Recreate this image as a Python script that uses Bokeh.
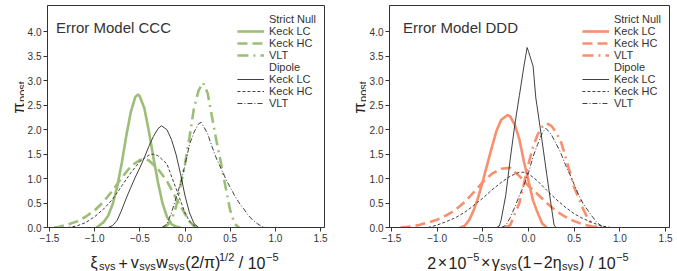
import math
from bokeh.plotting import figure
from bokeh.layouts import row, column
from bokeh.models import Legend, LegendItem, Label, FixedTicker, Range1d
from bokeh.embed import file_html
from bokeh.resources import INLINE

FONT = "Liberation Sans"
GREEN = "#9dbe78"
SALMON = "#f88f6e"
DARK = "#2a2a2a"

# ---------------- data ----------------
xticks = [-1.5, -1.0, -0.5, 0.0, 0.5, 1.0, 1.5]
xtick_labels = ["\u22121.5", "\u22121.0", "\u22120.5", "0.0", "0.5", "1.0", "1.5"]
yticks = [0.0, 0.5, 1.0, 1.5, 2.0, 2.5, 3.0, 3.5, 4.0]
ytick_labels = ["0.0", "0.5", "1.0", "1.5", "2.0", "2.5", "3.0", "3.5", "4.0"]
legend_labels = ["Strict Null", "Keck LC", "Keck HC", "VLT", "Dipole", "Keck LC", "Keck HC", "VLT"]
titles = ["Error Model CCC", "Error Model DDD"]

# Error model CCC
ccc_sn_lc_x = [-0.98, -0.95, -0.9, -0.85, -0.8, -0.75, -0.7, -0.65, -0.6, -0.55, -0.52, -0.5, -0.45, -0.4, -0.35, -0.3, -0.25, -0.2, -0.15, -0.1, -0.05]
ccc_sn_lc_y = [0, 0.04, 0.11, 0.24, 0.48, 0.84, 1.32, 1.87, 2.36, 2.67, 2.72, 2.68, 2.44, 1.97, 1.43, 0.93, 0.5, 0.22, 0.07, 0.02, 0]
ccc_sn_hc_x = [-1.45, -1.4, -1.3, -1.2, -1.1, -1.0, -0.9, -0.8, -0.7, -0.6, -0.5, -0.45, -0.4, -0.3, -0.2, -0.1, 0.0, 0.05, 0.1, 0.15]
ccc_sn_hc_y = [0, 0.01, 0.06, 0.12, 0.22, 0.35, 0.53, 0.76, 1.02, 1.25, 1.38, 1.4, 1.37, 1.2, 0.95, 0.6, 0.28, 0.12, 0.03, 0]
ccc_sn_vlt_x = [-0.25, -0.2, -0.15, -0.1, -0.05, 0.0, 0.05, 0.1, 0.15, 0.2, 0.25, 0.3, 0.35, 0.4, 0.45, 0.5, 0.55, 0.6]
ccc_sn_vlt_y = [0, 0.04, 0.15, 0.42, 0.85, 1.3, 1.85, 2.45, 2.8, 2.96, 2.75, 2.25, 1.75, 1.3, 0.82, 0.35, 0.07, 0]
ccc_dp_lc_x = [-0.85, -0.8, -0.75, -0.7, -0.65, -0.6, -0.55, -0.5, -0.45, -0.4, -0.35, -0.3, -0.26, -0.2, -0.15, -0.1, -0.05, 0.0, 0.05, 0.1, 0.15]
ccc_dp_lc_y = [0, 0.04, 0.15, 0.36, 0.6, 0.82, 1.03, 1.22, 1.43, 1.66, 1.86, 2.02, 2.08, 2.0, 1.8, 1.5, 1.1, 0.65, 0.3, 0.08, 0]
ccc_dp_hc_x = [-1.3, -1.2, -1.1, -1.0, -0.9, -0.8, -0.7, -0.6, -0.5, -0.4, -0.35, -0.3, -0.2, -0.1, 0.0, 0.05, 0.1, 0.15]
ccc_dp_hc_y = [0, 0.03, 0.1, 0.22, 0.38, 0.58, 0.85, 1.12, 1.35, 1.48, 1.5, 1.47, 1.3, 0.8, 0.3, 0.13, 0.04, 0]
ccc_dp_vlt_x = [-0.25, -0.2, -0.15, -0.1, -0.05, 0.0, 0.05, 0.1, 0.15, 0.18, 0.25, 0.3, 0.35, 0.4, 0.45, 0.5, 0.55, 0.6, 0.65, 0.7, 0.75, 0.8, 0.85, 0.9]
ccc_dp_vlt_y = [0, 0.07, 0.3, 0.6, 0.9, 1.28, 1.7, 1.95, 2.12, 2.15, 1.92, 1.65, 1.4, 1.2, 1.0, 0.82, 0.65, 0.5, 0.38, 0.25, 0.15, 0.08, 0.02, 0]

# Error model DDD
ddd_sn_lc_x = [-0.75, -0.7, -0.65, -0.6, -0.55, -0.5, -0.45, -0.4, -0.35, -0.3, -0.23, -0.2, -0.15, -0.1, -0.05, 0.0, 0.05, 0.1, 0.15, 0.2]
ddd_sn_lc_y = [0, 0.03, 0.15, 0.35, 0.62, 0.95, 1.3, 1.65, 1.98, 2.2, 2.3, 2.27, 2.1, 1.8, 1.35, 0.95, 0.55, 0.3, 0.08, 0]
ddd_sn_hc_x = [-1.4, -1.3, -1.2, -1.1, -1.0, -0.9, -0.8, -0.7, -0.6, -0.5, -0.4, -0.3, -0.2, -0.1, 0.0, 0.1, 0.2, 0.3, 0.4, 0.5, 0.6, 0.7, 0.8]
ddd_sn_hc_y = [0, 0.02, 0.05, 0.1, 0.16, 0.25, 0.36, 0.52, 0.72, 0.93, 1.1, 1.2, 1.22, 1.05, 0.85, 0.68, 0.5, 0.34, 0.22, 0.13, 0.06, 0.02, 0]
ddd_sn_vlt_x = [-0.25, -0.2, -0.15, -0.1, -0.05, 0.0, 0.05, 0.1, 0.15, 0.2, 0.25, 0.3, 0.35, 0.4, 0.45, 0.5, 0.55, 0.6, 0.65, 0.7, 0.75]
ddd_sn_vlt_y = [0, 0.05, 0.28, 0.5, 0.9, 1.3, 1.65, 1.9, 2.06, 2.13, 2.08, 1.95, 1.78, 1.48, 1.15, 0.82, 0.6, 0.37, 0.18, 0.06, 0]
ddd_dp_lc_x = [-0.35, -0.32, -0.3, -0.25, -0.2, -0.15, -0.1, -0.05, -0.015, 0.0, 0.05, 0.08, 0.1, 0.15, 0.2, 0.25, 0.28, 0.3]
ddd_dp_lc_y = [0, 0.03, 0.15, 0.65, 1.4, 2.1, 2.7, 3.3, 3.68, 3.6, 3.3, 2.65, 2.4, 1.75, 1.08, 0.42, 0.05, 0]
ddd_dp_hc_x = [-1.1, -1.0, -0.9, -0.8, -0.7, -0.6, -0.5, -0.4, -0.3, -0.2, -0.1, -0.05, 0.0, 0.1, 0.2, 0.3, 0.4, 0.5, 0.6, 0.7, 0.8, 0.9]
ddd_dp_hc_y = [0, 0.05, 0.12, 0.2, 0.31, 0.45, 0.6, 0.77, 0.92, 1.05, 1.13, 1.13, 1.1, 0.95, 0.76, 0.58, 0.42, 0.28, 0.18, 0.1, 0.03, 0]
ddd_dp_vlt_x = [-0.3, -0.25, -0.2, -0.15, -0.1, -0.05, 0.0, 0.05, 0.1, 0.15, 0.19, 0.25, 0.3, 0.35, 0.4, 0.45, 0.5, 0.55, 0.6, 0.65, 0.7, 0.75, 0.8, 0.85]
ddd_dp_vlt_y = [0, 0.04, 0.2, 0.42, 0.65, 0.86, 1.12, 1.45, 1.7, 1.93, 2.03, 1.9, 1.72, 1.54, 1.3, 1.1, 0.88, 0.66, 0.48, 0.35, 0.22, 0.1, 0.03, 0]

# ---------------- layout ----------------
BORDER_TOP = 5
FRAME_H = 222
BORDER_BOTTOM = 17
P_H = BORDER_TOP + FRAME_H + BORDER_BOTTOM   # 244
XL_H = 27                                    # x-label strip below each plot
BORDER_LEFT = 20

MAIN = 16.0
SCRIPT = 11.0
EM = {"ξ": 0.50, "s": 0.5, "y": 0.5, "+": 0.584, "v": 0.5, "w": 0.722, "(": 0.333, ")": 0.333,
      "2": 0.556, "/": 0.278, "π": 0.57, "1": 0.556, "0": 0.556, "−": 0.584, "5": 0.556,
      "×": 0.584, "γ": 0.5, "η": 0.556, "p": 0.556, "o": 0.556, "t": 0.278}


def text_w(t, size):
    return sum(EM.get(c, 0.55) for c in t) * size


def piece_geom(kind, sub_drop=3.5):
    if kind == "main":
        return MAIN, 0.0
    if kind == "sub":
        return SCRIPT, -sub_drop
    return SCRIPT, 6.0


def strip(width, height):
    s = figure(width=width, height=height, output_backend="svg", toolbar_location=None, title=None,
               x_axis_type=None, y_axis_type=None, x_range=Range1d(0, 1), y_range=Range1d(0, 1),
               min_border=0, min_border_left=0, min_border_right=0, min_border_top=0, min_border_bottom=0)
    s.outline_line_color = None
    s.background_fill_color = "white"
    s.border_fill_color = "white"
    return s


def add_xlabel(s, pieces, x_center, y_base):
    total = 0.0
    for t, kind, gap in pieces:
        size, _ = piece_geom(kind)
        total += gap + text_w(t, size)
    x = x_center - total / 2
    for t, kind, gap in pieces:
        size, off = piece_geom(kind)
        x += gap
        s.add_layout(Label(x=x, y=y_base + off, x_units="screen", y_units="screen", text=t,
                           text_font=FONT, text_font_size=f"{size}px", text_color="#222222",
                           text_align="left", text_baseline="alphabetic"))
        x += text_w(t, size)


def add_ylabel(s, pieces, x_base, y_start):
    # rotated pieces, each anchored at its upper end (right-aligned along the text)
    y = y_start
    for t, kind, gap in pieces:
        size, off = piece_geom(kind, sub_drop=3.0)
        y += gap + text_w(t, size)
        s.add_layout(Label(x=x_base - off, y=y, x_units="screen", y_units="screen", text=t,
                           angle=math.pi / 2, angle_units="rad",
                           text_font=FONT, text_font_size=f"{size}px", text_color="#222222",
                           text_align="right", text_baseline="alphabetic"))


def make_panel(frame_w, border_right, title, title_dx, color, series):
    ppu = (frame_w - 6) / 3.0
    p = figure(width=BORDER_LEFT + frame_w + border_right, height=P_H, output_backend="svg",
               toolbar_location=None, title=None,
               x_range=Range1d(-1.5 - 2 / ppu, 1.5 + 4 / ppu), y_range=Range1d(0, 4.54),
               min_border_left=BORDER_LEFT, min_border_right=border_right,
               min_border_top=BORDER_TOP, min_border_bottom=BORDER_BOTTOM)
    p.background_fill_color = "white"
    p.border_fill_color = "white"
    p.outline_line_color = "#333333"
    p.outline_line_width = 1
    p.xgrid.visible = False
    p.ygrid.visible = False
    for ax, ticks, labels in ((p.xaxis[0], xticks, xtick_labels), (p.yaxis[0], yticks, ytick_labels)):
        ax.ticker = FixedTicker(ticks=ticks)
        ax.major_label_overrides = {t: l for t, l in zip(ticks, labels)}
        ax.minor_tick_line_color = None
        ax.major_tick_in = 0
        ax.major_tick_out = 4
        ax.major_tick_line_color = "#333333"
        ax.axis_line_color = "#333333"
        ax.major_label_text_font = FONT
        ax.major_label_text_font_size = "10px"
        ax.major_label_text_color = "#333333"
        ax.major_label_standoff = 2

    sn, dp = series
    styles_sn = [("solid", 2.6), ("10 5", 2.6), ("11 5 2 5", 2.6)]
    styles_dp = [("solid", 0.9), ("3 2", 0.9), ("5 2 1 2", 0.9)]
    rs_sn, rs_dp = [], []
    for (xs, ys), (dash, lw) in zip(sn, styles_sn):
        rs_sn.append(p.line(xs, ys, line_color=color, line_width=lw, line_dash=dash))
    for (xs, ys), (dash, lw) in zip(dp, styles_dp):
        rs_dp.append(p.line(xs, ys, line_color=DARK, line_width=lw, line_dash=dash))
    dummy = p.line([], [], line_alpha=0)

    items = [LegendItem(label=legend_labels[0], renderers=[dummy])]
    items += [LegendItem(label=legend_labels[1 + i], renderers=[r]) for i, r in enumerate(rs_sn)]
    items.append(LegendItem(label=legend_labels[4], renderers=[dummy]))
    items += [LegendItem(label=legend_labels[5 + i], renderers=[r]) for i, r in enumerate(rs_dp)]
    legend = Legend(items=items, location="top_right", margin=1, padding=7, spacing=0,
                    glyph_width=27, glyph_height=12, label_height=12, label_standoff=5,
                    label_text_font=FONT, label_text_font_size="11px", label_text_color="#333333",
                    border_line_alpha=0, background_fill_alpha=0)
    p.add_layout(legend)

    p.add_layout(Label(x=title_dx, y=FRAME_H - 21.7, x_units="screen", y_units="screen", text=title,
                       text_font=FONT, text_font_size="15px", text_color="#333333",
                       text_baseline="alphabetic"))
    return p


xlabel_ccc = [("ξ", "main", 0), ("sys", "sub", 0.5), ("+", "main", 3), ("v", "main", 3),
              ("sys", "sub", 0.5), ("w", "main", 0.5), ("sys", "sub", 0.5), ("(2/π)", "main", 0.5),
              ("1/2", "sup", 0.5), ("/", "main", 4.5), ("10", "main", 4.5), ("−5", "sup", 0.5)]
xlabel_ddd = [("2", "main", 0), ("×", "main", 1.5), ("10", "main", 1.5), ("−5", "sup", 0.5),
              ("×", "main", 1.5), ("γ", "main", 1.5), ("sys", "sub", 0.5), ("(1", "main", 0.5),
              ("−", "main", 1.5), ("2η", "main", 1.5), ("sys", "sub", 0.5), (")", "main", 0.5),
              ("/", "main", 4.5), ("10", "main", 4.5), ("−5", "sup", 0.5)]
ylabel_pieces = [("π", "main", 0.0), ("post", "sub", 0.5)]

groups = []
for title, title_dx, color, series, xl_pieces, yl_w, yl_base, frame_w, border_right in (
        (titles[0], 8.5, GREEN,
         ([(ccc_sn_lc_x, ccc_sn_lc_y), (ccc_sn_hc_x, ccc_sn_hc_y), (ccc_sn_vlt_x, ccc_sn_vlt_y)],
          [(ccc_dp_lc_x, ccc_dp_lc_y), (ccc_dp_hc_x, ccc_dp_hc_y), (ccc_dp_vlt_x, ccc_dp_vlt_y)]),
         xlabel_ccc, 24, 18.0, 280, 16),
        (titles[1], 13.5, SALMON,
         ([(ddd_sn_lc_x, ddd_sn_lc_y), (ddd_sn_hc_x, ddd_sn_hc_y), (ddd_sn_vlt_x, ddd_sn_vlt_y)],
          [(ddd_dp_lc_x, ddd_dp_lc_y), (ddd_dp_hc_x, ddd_dp_hc_y), (ddd_dp_vlt_x, ddd_dp_vlt_y)]),
         xlabel_ddd, 26, 19.0, 283, 7)):
    p = make_panel(frame_w, border_right, title, title_dx, color, series)
    yl = strip(yl_w, P_H)
    add_ylabel(yl, ylabel_pieces, yl_base, P_H - 128)
    group_w = yl_w + BORDER_LEFT + frame_w + border_right
    xl = strip(group_w, XL_H)
    add_xlabel(xl, xl_pieces, yl_w + BORDER_LEFT + frame_w / 2, 9)
    groups.append(column(row(yl, p), xl))

layout = row(*groups)
open("out.html", "w").write(file_html(layout, INLINE))
